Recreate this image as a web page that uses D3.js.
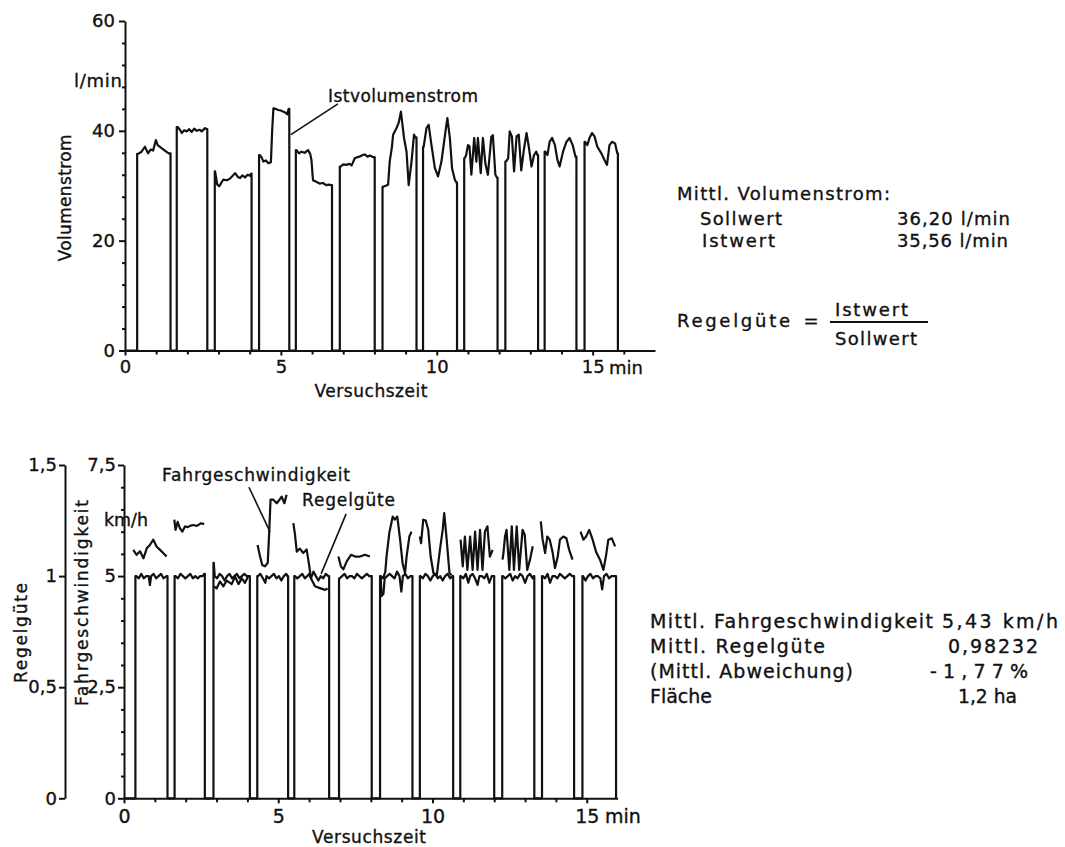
<!DOCTYPE html>
<meta charset="utf-8">

<!-- LOAD d3.js -->
<script src="https://d3js.org/d3.v7.min.js"></script>

<style>
  body {margin:0; background:#fff;}
  text {font-family:"DejaVu Sans", sans-serif; fill:#111; stroke:#111; stroke-width:0.35px;}
</style>

<!-- create div for graphs -->
<div id="chart"></div>

<script>
  // ---- data: top chart (Istvolumenstrom, l/min) ----
  // passes: [switch on, switch off] in min
  var volPasses = [[0.39,1.46],[1.66,2.64],[2.88,4.06],[4.30,5.27],[5.48,6.64],[6.89,8.01],
                   [8.26,9.35],[9.56,10.65],[10.88,11.95],[12.20,13.25],[13.46,14.48],[14.74,15.81]];
  // values read along the top of every pass [min, l/min]
  var volValues = [
    [[0.42,35.8],[0.53,36.2],[0.64,37.1],[0.74,35.9],[0.82,36.6],[0.90,36.4],[0.99,38.3],[1.05,37.4],[1.12,37.1],[1.28,36.4],[1.40,35.9]],
    [[1.69,40.7],[1.76,40.2],[1.82,39.6],[1.90,40.1],[1.98,39.9],[2.06,40.3],[2.14,39.8],[2.22,40.4],[2.30,40.0],[2.40,40.2],[2.46,39.9],[2.57,40.5],[2.62,40.3]],
    [[2.89,32.6],[2.96,30.2],[3.02,29.9],[3.15,31.1],[3.27,31.0],[3.37,31.3],[3.45,31.8],[3.53,32.3],[3.62,31.6],[3.69,31.4],[3.77,31.9],[3.85,31.5],[3.93,32.0],[4.01,31.8],[4.04,32.2]],
    [[4.32,35.6],[4.38,35.2],[4.44,34.4],[4.52,34.6],[4.60,34.1],[4.68,34.3],[4.72,40.0],[4.76,44.1],[4.84,44.0],[4.91,43.8],[5.00,43.7],[5.07,43.5],[5.15,43.3],[5.20,43.0],[5.25,44.0]],
    [[5.50,36.5],[5.58,35.9],[5.66,36.2],[5.76,36.0],[5.87,36.5],[5.94,35.8],[5.98,34.7],[6.03,31.0],[6.10,30.8],[6.24,30.4],[6.35,30.5],[6.45,30.1],[6.55,30.2],[6.62,30.1]],
    [[6.92,33.5],[7.00,33.9],[7.10,33.8],[7.20,34.0],[7.27,33.7],[7.37,35.0],[7.45,35.2],[7.53,35.3],[7.62,35.6],[7.69,35.7],[7.78,35.3],[7.85,35.5],[7.97,35.2]],
    [[8.28,29.8],[8.36,30.0],[8.44,30.2],[8.49,34.4],[8.56,37.0],[8.60,39.3],[8.71,40.5],[8.78,41.5],[8.85,43.5],[8.95,38.7],[9.03,36.2],[9.10,30.1],[9.19,34.4],[9.27,39.3],[9.32,38.8]],
    [[9.58,37.1],[9.67,40.5],[9.74,41.1],[9.83,37.4],[9.94,33.2],[10.04,31.7],[10.15,34.4],[10.28,39.9],[10.34,42.3],[10.42,38.7],[10.49,33.2],[10.58,31.1],[10.63,30.6]],
    [[10.89,35.0],[10.94,35.5],[11.00,37.4],[11.05,37.2],[11.11,32.0],[11.20,38.7],[11.27,34.4],[11.32,38.7],[11.41,32.3],[11.48,38.7],[11.56,34.0],[11.64,32.0],[11.75,38.9],[11.80,39.2],[11.88,32.0],[11.93,31.5]],
    [[12.22,34.4],[12.29,35.0],[12.34,39.9],[12.41,39.0],[12.48,32.6],[12.56,39.0],[12.63,39.3],[12.71,32.8],[12.80,36.8],[12.88,39.6],[12.96,36.8],[13.04,33.5],[13.12,35.6],[13.19,36.2],[13.23,35.6]],
    [[13.48,36.2],[13.55,35.6],[13.62,38.0],[13.70,38.7],[13.79,37.4],[13.87,34.7],[13.94,33.5],[14.05,36.2],[14.16,38.0],[14.26,38.7],[14.36,37.4],[14.45,35.3]],
    [[14.76,38.0],[14.83,37.4],[14.90,38.7],[14.98,39.6],[15.06,39.0],[15.15,37.1],[15.28,35.9],[15.38,34.7],[15.46,33.8],[15.54,37.4],[15.62,38.0],[15.72,37.7],[15.79,35.9]]
  ];
  var volTicks = [0,20,40,60];
  var volMinor = [4,8,12,16,24,28,32,36,44,48,52,56];
  var timeTicks = [0,5,10,15];
  var timeMinorTop = [1,2,3,4,6,7,8,9,11,12,13,14,16];
  var timeMinorBot = [1,2,3,4,6,7,8,9,11,12,13,14];

  // ---- data: bottom chart ----
  var rgPasses = [[0.37,1.41],[1.64,2.62],[2.90,4.08],[4.32,5.32],[5.52,6.65],[6.97,8.03],
                  [8.30,9.35],[9.59,10.67],[10.90,12.00],[12.26,13.30],[13.55,14.59],[14.86,15.95]];
  // Regelguete (ratio) along each pass
  var rgValues = [
    [[0.40,1.00],[0.48,0.99],[0.56,1.01],[0.64,0.99],[0.72,1.00],[0.80,1.00],[0.84,0.96],[0.88,1.00],[0.96,1.01],[1.04,0.99],[1.12,1.00],[1.20,1.01],[1.28,0.99],[1.38,1.00]],
    [[1.67,1.00],[1.75,0.99],[1.83,1.01],[1.91,1.00],[1.99,0.99],[2.07,1.00],[2.15,1.01],[2.23,0.99],[2.31,1.00],[2.39,0.99],[2.47,1.00],[2.55,1.00],[2.60,1.01]],
    [[2.91,1.06],[2.94,1.00],[3.02,0.99],[3.10,1.01],[3.18,1.00],[3.26,0.98],[3.34,1.00],[3.42,1.01],[3.50,0.99],[3.58,1.00],[3.66,1.01],[3.74,0.99],[3.82,1.00],[3.90,1.01],[3.98,1.00],[4.05,1.00]],
    [[4.34,1.00],[4.42,1.01],[4.50,0.99],[4.58,0.97],[4.62,1.00],[4.70,0.99],[4.78,1.00],[4.86,1.01],[4.94,0.99],[5.02,1.00],[5.10,0.98],[5.18,1.00],[5.26,1.01],[5.30,1.00]],
    [[5.54,1.00],[5.62,0.99],[5.70,1.00],[5.78,1.01],[5.86,0.99],[5.94,1.00],[6.00,1.01],[6.06,0.99],[6.14,1.02],[6.22,1.00],[6.30,0.98],[6.38,1.00],[6.46,0.99],[6.54,1.01],[6.62,1.00]],
    [[6.99,0.99],[7.07,1.00],[7.15,1.01],[7.23,0.99],[7.31,1.00],[7.39,1.00],[7.47,0.99],[7.55,1.01],[7.63,1.00],[7.71,0.99],[7.79,1.00],[7.87,1.01],[7.95,1.00],[8.01,1.00]],
    [[8.32,1.00],[8.35,0.91],[8.41,0.92],[8.45,0.99],[8.53,1.00],[8.61,1.01],[8.69,1.00],[8.77,0.99],[8.85,1.02],[8.93,1.00],[8.99,0.93],[9.04,1.00],[9.12,1.01],[9.20,0.99],[9.28,1.00],[9.33,1.00]],
    [[9.61,1.00],[9.69,0.99],[9.77,1.01],[9.85,1.00],[9.93,0.98],[10.01,1.00],[10.09,1.01],[10.17,0.99],[10.25,1.00],[10.33,0.98],[10.41,1.00],[10.49,1.01],[10.57,0.99],[10.65,1.00]],
    [[10.92,1.00],[11.00,0.99],[11.08,1.01],[11.16,0.97],[11.22,1.00],[11.30,1.01],[11.38,0.99],[11.46,0.96],[11.52,1.00],[11.60,1.00],[11.68,0.99],[11.76,1.01],[11.84,0.97],[11.92,1.00],[11.98,1.00]],
    [[12.28,1.00],[12.36,0.99],[12.44,1.00],[12.52,1.01],[12.60,0.98],[12.68,1.00],[12.76,0.99],[12.84,1.01],[12.92,1.00],[13.00,0.97],[13.08,1.00],[13.16,1.01],[13.24,0.99],[13.28,1.00]],
    [[13.57,1.00],[13.65,0.99],[13.73,1.01],[13.81,0.97],[13.89,1.00],[13.97,1.00],[14.05,0.99],[14.13,1.01],[14.21,1.00],[14.29,0.99],[14.37,1.00],[14.45,1.01],[14.53,1.00],[14.57,1.00]],
    [[14.88,1.00],[14.96,0.98],[15.04,1.00],[15.12,1.01],[15.20,0.99],[15.28,1.00],[15.36,1.00],[15.44,0.99],[15.50,0.94],[15.56,1.00],[15.64,1.01],[15.72,0.99],[15.80,1.00],[15.88,1.00],[15.93,1.00]]
  ];
  // Fahrgeschwindigkeit (km/h), one trace per pass
  var speedValues = [
    [[0.30,5.59],[0.41,5.48],[0.52,5.56],[0.63,5.40],[0.74,5.63],[0.84,5.70],[0.95,5.82],[1.06,5.66],[1.17,5.59],[1.27,5.52],[1.38,5.44]],
    [[1.63,6.27],[1.67,6.04],[1.74,6.22],[1.81,6.08],[1.89,6.00],[1.98,6.12],[2.06,6.10],[2.14,6.13],[2.25,6.15],[2.36,6.13],[2.50,6.19],[2.60,6.17]],
    [[2.92,4.77],[3.00,4.72],[3.11,4.88],[3.22,4.77],[3.33,4.90],[3.49,4.82],[3.60,4.99],[3.71,4.82],[3.82,4.95],[3.92,4.85],[4.03,5.00]],
    [[4.33,5.70],[4.41,5.44],[4.48,5.25],[4.57,5.22],[4.66,5.30],[4.71,6.04],[4.75,6.72],[4.84,6.72],[4.95,6.64],[5.02,6.70],[5.11,6.79],[5.20,6.64],[5.27,6.83]],
    [[5.49,6.19],[5.54,5.95],[5.60,5.55],[5.70,5.62],[5.81,5.52],[5.92,5.60],[6.00,5.25],[6.06,4.95],[6.19,4.77],[6.35,4.73],[6.52,4.69],[6.60,4.72]],
    [[6.95,5.44],[7.03,5.22],[7.11,5.15],[7.22,5.33],[7.36,5.48],[7.49,5.44],[7.65,5.44],[7.81,5.48],[7.97,5.44]],
    [[8.32,5.00],[8.40,4.95],[8.47,5.10],[8.51,5.44],[8.60,5.97],[8.71,6.34],[8.78,6.27],[8.86,6.34],[8.95,5.82],[9.03,5.29],[9.11,5.07],[9.16,5.44],[9.25,5.89],[9.32,6.00]],
    [[9.59,5.89],[9.63,5.74],[9.70,6.27],[9.78,6.25],[9.86,6.05],[9.94,5.44],[10.03,5.07],[10.14,5.02],[10.24,5.59],[10.33,6.04],[10.38,6.42],[10.46,5.82],[10.55,5.07],[10.62,5.02]],
    [[10.91,5.82],[10.98,5.22],[11.05,5.89],[11.13,5.14],[11.22,5.89],[11.30,5.14],[11.38,6.00],[11.46,5.14],[11.54,6.04],[11.62,5.14],[11.70,6.00],[11.78,6.12],[11.86,5.44],[11.95,5.59]],
    [[12.27,5.37],[12.30,5.52],[12.35,5.89],[12.40,6.04],[12.49,5.14],[12.57,6.12],[12.64,5.14],[12.73,6.12],[12.81,5.14],[12.92,6.04],[12.99,5.93],[13.07,5.14],[13.16,5.37],[13.25,5.67]],
    [[13.51,6.23],[13.57,5.82],[13.65,5.52],[13.72,5.89],[13.80,5.82],[13.89,5.55],[13.97,5.18],[14.06,5.44],[14.13,5.82],[14.24,5.89],[14.34,5.85],[14.43,5.59],[14.54,5.37]],
    [[14.80,6.00],[14.89,5.82],[14.98,5.89],[15.08,6.04],[15.19,5.82],[15.30,5.55],[15.43,5.37],[15.54,5.14],[15.62,5.44],[15.70,5.82],[15.81,5.85],[15.92,5.67]]
  ];
  var speedTicks = [0,2.5,5,7.5];
  var speedMinor = [0.5,1,1.5,2,3,3.5,4,4.5,5.5,6,6.5,7];
  var rgTicks = [0,0.5,1,1.5];

  // ---- svg ----
  var width = 1065, height = 847;
  var svg = d3.select("#chart")
    .append("svg")
      .attr("width", width)
      .attr("height", height);

  var comma = function(d){ return String(d).replace(".", ","); };

  // make the axis look like a pen drawing
  function penAxis(g, size){
    g.attr("font-family", "DejaVu Sans, sans-serif").attr("font-size", size);
    g.selectAll("path,line").attr("stroke", "#111").attr("stroke-width", 2);
    g.selectAll("text").attr("fill", "#111");
  }

  // stretch a label to the width seen in the scan, or shrink its font if it is too wide
  function fit(sel, w){
    sel.each(function(){
      var n = this.getComputedTextLength();
      if (n > w) {
        var fs = parseFloat(getComputedStyle(this).fontSize);
        d3.select(this).attr("font-size", fs * w / n);
      } else {
        d3.select(this).attr("textLength", w).attr("lengthAdjust", "spacing");
      }
    });
  }

  // pulse path: baseline -> up -> values -> down -> baseline
  function pulsePoints(passes, values){
    var pts = [[0,0]];
    passes.forEach(function(p, i){
      var v = values[i];
      pts.push([p[0], 0]);
      pts.push([p[0], v[0][1]]);
      v.forEach(function(d){ pts.push(d); });
      pts.push([p[1], v[v.length-1][1]]);
      pts.push([p[1], 0]);
    });
    return pts;
  }

  // ================= TOP CHART =================
  var x = d3.scaleLinear().domain([0,17]).range([125,655]);
  var y = d3.scaleLinear().domain([0,60]).range([350.5,21]);

  // Y axis
  svg.append("g")
    .attr("transform", "translate(125,0)")
    .call(d3.axisLeft(y).tickValues(volTicks).tickSize(6).tickPadding(4).tickSizeOuter(0))
    .call(penAxis, 18);
  svg.append("g")
    .attr("transform", "translate(125,0)")
    .call(d3.axisLeft(y).tickValues(volMinor).tickSize(3).tickFormat(""))
    .call(function(g){ g.select(".domain").remove(); })
    .call(penAxis, 18);

  // X axis
  svg.append("g")
    .attr("transform", "translate(0,"+y(0)+")")
    .call(d3.axisBottom(x).tickValues(timeTicks).tickSize(5).tickPadding(5).tickSizeOuter(0))
    .call(penAxis, 18);
  svg.append("g")
    .attr("transform", "translate(0,"+y(0)+")")
    .call(d3.axisBottom(x).tickValues(timeMinorTop).tickSize(4).tickFormat(""))
    .call(function(g){ g.select(".domain").remove(); })
    .call(penAxis, 18);

  var volLine = d3.line()
    .x(function(d){ return x(d[0]); })
    .y(function(d){ return y(d[1]); });

  svg.append("path")
    .datum(pulsePoints(volPasses, volValues))
    .attr("d", volLine)
    .attr("fill", "none")
    .attr("stroke", "#111")
    .attr("stroke-width", 2.2)
    .attr("stroke-linejoin", "round");

  // labels top
  svg.append("text").attr("x", 74).attr("y", 87).attr("font-size", 18).text("l/min").call(fit, 48);
  svg.append("text").attr("transform", "translate(71,198) rotate(-90)")
    .attr("text-anchor", "middle").attr("font-size", 17).text("Volumenstrom").call(fit, 127);
  svg.append("text").attr("x", 609).attr("y", 374).attr("font-size", 18).text("min");
  svg.append("text").attr("x", 371).attr("y", 397).attr("text-anchor", "middle")
    .attr("font-size", 17).text("Versuchszeit").call(fit, 113);
  svg.append("text").attr("x", 328).attr("y", 102).attr("font-size", 17)
    .text("Istvolumenstrom").call(fit, 150);
  svg.append("line")
    .attr("x1", x(6.83)).attr("y1", y(44.9))
    .attr("x2", x(5.32)).attr("y2", y(39.3))
    .attr("stroke", "#111").attr("stroke-width", 1.6);

  // text block top right
  var t1 = svg.append("g").attr("font-size", 18);
  t1.append("text").attr("x", 677).attr("y", 200).text("Mittl. Volumenstrom:").call(fit, 213);
  t1.append("text").attr("x", 700).attr("y", 225).text("Sollwert").call(fit, 82);
  t1.append("text").attr("x", 702).attr("y", 247).text("Istwert").call(fit, 73);
  t1.append("text").attr("x", 897).attr("y", 225).text("36,20 l/min").call(fit, 113);
  t1.append("text").attr("x", 897).attr("y", 247).text("35,56 l/min").call(fit, 111);
  t1.append("text").attr("x", 677).attr("y", 327).text("Regelgüte").call(fit, 113);
  t1.append("text").attr("x", 811).attr("y", 327).attr("text-anchor", "middle").text("=");
  t1.append("text").attr("x", 835).attr("y", 316).text("Istwert").call(fit, 73);
  t1.append("text").attr("x", 835).attr("y", 345).text("Sollwert").call(fit, 82);
  t1.append("line").attr("x1", 830).attr("x2", 928).attr("y1", 322).attr("y2", 322)
    .attr("stroke", "#111").attr("stroke-width", 2);

  // ================= BOTTOM CHART =================
  var x2 = d3.scaleLinear().domain([0,16]).range([124,617.6]);
  var yS = d3.scaleLinear().domain([0,7.5]).range([798.3,465]);
  var yR = d3.scaleLinear().domain([0,1.5]).range([798.3,465]);

  // inner axis km/h
  svg.append("g")
    .attr("transform", "translate(124,0)")
    .call(d3.axisLeft(yS).tickValues(speedTicks).tickSize(6).tickPadding(2).tickSizeOuter(0).tickFormat(comma))
    .call(penAxis, 18);
  svg.append("g")
    .attr("transform", "translate(124,0)")
    .call(d3.axisLeft(yS).tickValues(speedMinor).tickSize(3).tickFormat(""))
    .call(function(g){ g.select(".domain").remove(); })
    .call(penAxis, 18);

  // outer axis Regelguete
  svg.append("g")
    .attr("transform", "translate(65,0)")
    .call(d3.axisLeft(yR).tickValues(rgTicks).tickSize(6).tickPadding(2).tickSizeOuter(0).tickFormat(comma))
    .call(penAxis, 18);

  // x axis
  svg.append("g")
    .attr("transform", "translate(0,"+yS(0)+")")
    .call(d3.axisBottom(x2).tickValues(timeTicks).tickSize(5).tickPadding(6).tickSizeOuter(0))
    .call(penAxis, 19);
  svg.append("g")
    .attr("transform", "translate(0,"+yS(0)+")")
    .call(d3.axisBottom(x2).tickValues(timeMinorBot).tickSize(4).tickFormat(""))
    .call(function(g){ g.select(".domain").remove(); })
    .call(penAxis, 19);

  var rgLine = d3.line()
    .x(function(d){ return x2(d[0]); })
    .y(function(d){ return yR(d[1]); });
  var speedLine = d3.line()
    .x(function(d){ return x2(d[0]); })
    .y(function(d){ return yS(d[1]); });

  svg.append("path")
    .datum(pulsePoints(rgPasses, rgValues))
    .attr("d", rgLine)
    .attr("fill", "none")
    .attr("stroke", "#111")
    .attr("stroke-width", 2.2)
    .attr("stroke-linejoin", "round");

  svg.append("g")
    .selectAll("path")
    .data(speedValues)
    .enter()
    .append("path")
      .attr("d", speedLine)
      .attr("fill", "none")
      .attr("stroke", "#111")
      .attr("stroke-width", 2.2)
      .attr("stroke-linejoin", "round");

  // labels bottom
  svg.append("text").attr("transform", "translate(27,633) rotate(-90)")
    .attr("text-anchor", "middle").attr("font-size", 17).text("Regelgüte").call(fit, 100);
  svg.append("text").attr("transform", "translate(88,603) rotate(-90)")
    .attr("text-anchor", "middle").attr("font-size", 17).text("Fahrgeschwindigkeit").call(fit, 206);
  svg.append("text").attr("x", 104).attr("y", 526).attr("font-size", 18).text("km/h").call(fit, 44);
  svg.append("text").attr("x", 605).attr("y", 823).attr("font-size", 19).text("min");
  svg.append("text").attr("x", 369).attr("y", 843).attr("text-anchor", "middle")
    .attr("font-size", 17).text("Versuchszeit").call(fit, 114);
  svg.append("text").attr("x", 162).attr("y", 481).attr("font-size", 17)
    .text("Fahrgeschwindigkeit").call(fit, 188);
  svg.append("text").attr("x", 302).attr("y", 506).attr("font-size", 17)
    .text("Regelgüte").call(fit, 93);
  svg.append("line")
    .attr("x1", x2(4.05)).attr("y1", yS(7.0))
    .attr("x2", x2(4.73)).attr("y2", yS(6.0))
    .attr("stroke", "#111").attr("stroke-width", 1.6);
  svg.append("line")
    .attr("x1", x2(7.2)).attr("y1", yS(6.4))
    .attr("x2", x2(6.39)).attr("y2", yS(5.05))
    .attr("stroke", "#111").attr("stroke-width", 1.6);

  // text block bottom right
  var t2 = svg.append("g").attr("font-size", 19);
  t2.append("text").attr("x", 650).attr("y", 628).text("Mittl. Fahrgeschwindigkeit").call(fit, 283);
  t2.append("text").attr("x", 650).attr("y", 653).text("Mittl. Regelgüte").call(fit, 175);
  t2.append("text").attr("x", 650).attr("y", 678).text("(Mittl. Abweichung)").call(fit, 203);
  t2.append("text").attr("x", 650).attr("y", 703).text("Fläche").call(fit, 62);
  t2.append("text").attr("x", 942).attr("y", 628).text("5,43 km/h").call(fit, 116);
  t2.append("text").attr("x", 948).attr("y", 653).text("0,98232").call(fit, 90);
  t2.append("text").attr("x", 930).attr("y", 678).text("-1,77%").call(fit, 98);
  t2.append("text").attr("x", 958).attr("y", 703).text("1,2 ha").call(fit, 59);
</script>
